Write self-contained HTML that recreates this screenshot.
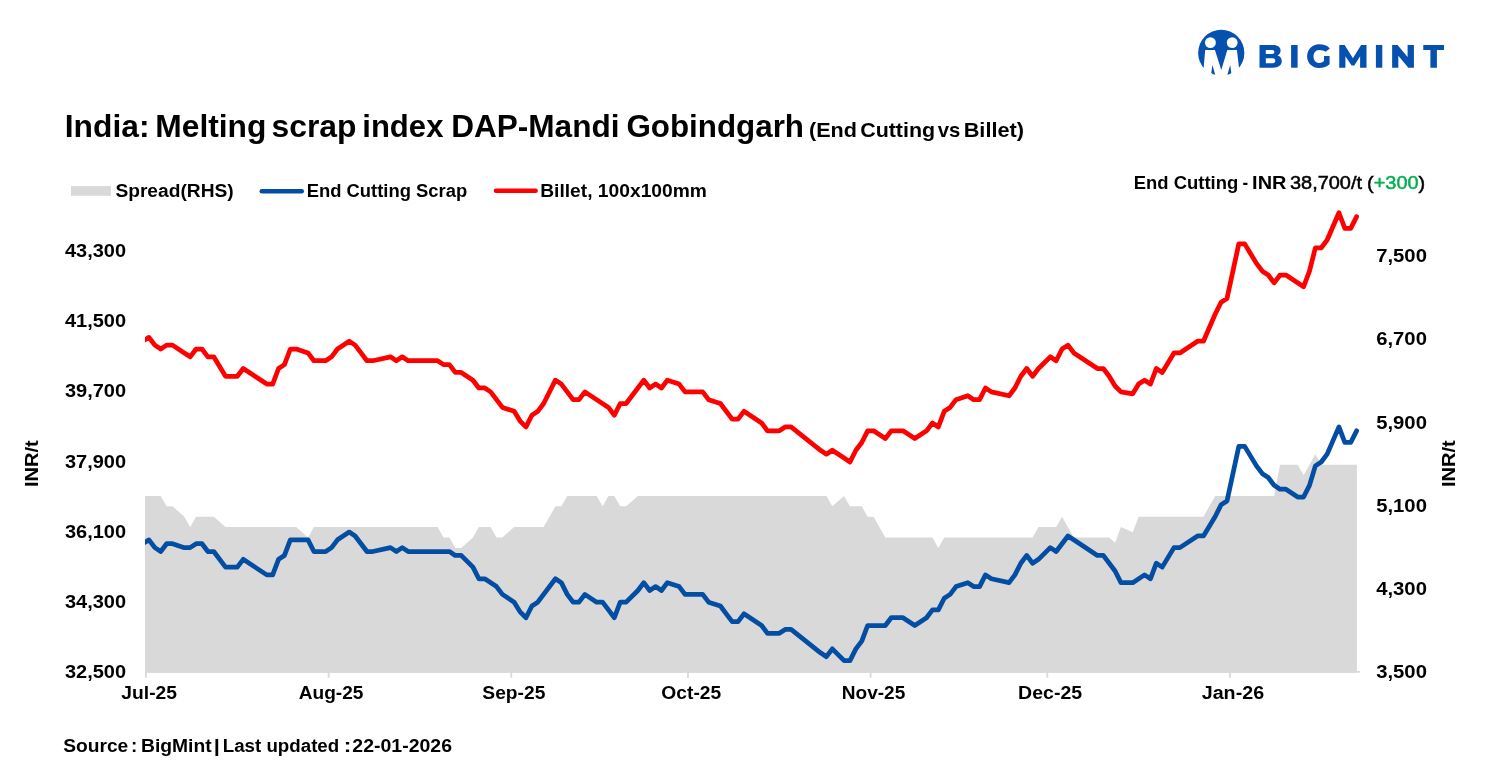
<!DOCTYPE html>
<html><head><meta charset="utf-8"><style>
html,body{margin:0;padding:0;background:#fff;width:1489px;height:776px;overflow:hidden}
svg{display:block;will-change:transform}
text{font-family:"Liberation Sans",sans-serif;font-weight:bold;fill:#000}
</style></head><body>
<svg width="1489" height="776" viewBox="0 0 1489 776">
<defs><clipPath id="plot"><rect x="145.05" y="150" width="1220" height="530"/></clipPath></defs>
<g fill="#0650B0">
<defs><clipPath id="lc"><circle cx="1221.25" cy="52.95" r="23.1"/></clipPath></defs>
<circle cx="1221.25" cy="52.95" r="23.1"/>
<polygon fill="#fff" points="1205.2,49.9 1214.9,49.9 1221.3,70.0 1227.3,49.9 1236.9,49.9 1238.9,66.9 1240.2,82 1202.4,82 1203.7,66.9"/>
<circle cx="1210.4" cy="42.6" r="5.45" fill="#fff"/>
<circle cx="1232.2" cy="42.6" r="5.4" fill="#fff"/>
<polygon points="1212.4,65.0 1211.3,72.8 1212.5,73.9 1215.2,74.8"/>
<polygon points="1230.2,65.0 1231.3,72.8 1230.1,73.9 1227.4,74.8"/>
<path fill-rule="evenodd" d="M1259.5,45 L1273,45 C1277.9,45 1280.6,47.4 1280.6,50.6 C1280.6,52.8 1279.4,54.5 1277.6,55.4 C1280.2,56.2 1281.8,58.3 1281.8,61.1 C1281.8,65.2 1278.6,67.7 1273,67.7 L1259.5,67.7 Z M1265.8,50.1 L1272.2,50.1 C1273.6,50.1 1274.4,50.9 1274.4,52.05 C1274.4,53.2 1273.6,54 1272.2,54 L1265.8,54 Z M1265.8,58.3 L1272.9,58.3 C1274.4,58.3 1275.3,59.2 1275.3,60.75 C1275.3,62.3 1274.4,63.2 1272.9,63.2 L1265.8,63.2 Z"/>
<rect x="1291.1" y="45" width="6.5" height="22.7"/>
<path d="M1329.8,48.45 C1327.6,45.7 1323.6,44.3 1318.95,44.3 C1312.4,44.3 1307.1,49.5 1307.1,56.15 C1307.1,62.8 1312.4,68 1318.95,68 C1323.5,68 1327.3,66.6 1329.6,64.3 L1329.6,56.1 L1324,56.1 L1324,61 C1322.8,62.2 1320.9,62.9 1318.95,62.9 C1315.9,62.9 1313.5,60 1313.5,56.4 C1313.5,52.8 1315.9,49.9 1318.95,49.9 C1321.9,49.9 1324.3,50.6 1325.7,51.75 Z"/>
<polygon points="1339.25,67.73 1339.25,44.95 1344.65,44.95 1352.92,58.23 1361.1,44.95 1366.51,44.95 1366.51,67.73 1360.1,67.73 1360.1,56.15 1354.31,65.41 1351.6,65.41 1345.42,56.15 1345.42,67.73"/>
<rect x="1375.9" y="45" width="6.4" height="22.7"/>
<polygon points="1392.14,67.73 1392.14,44.95 1397.55,44.95 1407.59,56.92 1407.59,44.95 1413.92,44.95 1413.92,67.73 1408.36,67.73 1398.32,55.76 1398.32,67.73"/>
<polygon points="1423.3,45 1444,45 1444,50 1436.9,50 1436.9,67.7 1430.4,67.7 1430.4,50 1423.3,50"/>
</g>

<path d="M145.05,672.7 L145.05,495.92 L160.73,495.92 L166.62,506.31 L172.51,506.31 L184.30,516.71 L190.19,527.10 L196.08,516.71 L213.75,516.71 L225.53,527.10 L296.23,527.10 L308.01,537.49 L313.90,527.10 L437.61,527.10 L443.50,537.49 L449.39,537.49 L455.28,547.88 L461.17,547.88 L472.95,537.49 L478.85,527.10 L490.63,527.10 L496.52,537.49 L502.41,537.49 L514.19,527.10 L543.65,527.10 L555.43,506.31 L561.32,506.31 L567.21,495.92 L596.67,495.92 L602.56,506.31 L608.45,495.92 L614.34,495.92 L620.23,506.31 L626.12,506.31 L637.90,495.92 L826.41,495.92 L832.31,506.31 L844.09,495.92 L849.98,506.31 L861.76,506.31 L867.65,516.71 L873.54,516.71 L885.33,537.49 L932.45,537.49 L938.34,547.88 L944.23,537.49 L1026.71,537.49 L1032.60,537.49 L1038.49,527.10 L1056.16,527.10 L1062.06,516.71 L1073.84,537.49 L1109.18,537.49 L1115.07,542.69 L1120.96,527.10 L1132.75,532.29 L1138.64,516.71 L1203.44,516.71 L1215.22,495.92 L1274.13,495.92 L1280.02,464.74 L1297.69,464.74 L1303.59,475.13 L1315.37,454.35 L1321.26,464.74 L1356.61,464.74 L1356.90,464.74 L1356.9,672.7 Z" fill="#D9D9D9"/>
<rect x="145.05" y="670.95" width="1214.85" height="1.75" fill="#D9D9D9"/>
<rect x="145.10" y="671" width="1.8" height="6.8" fill="#D9D9D9"/><rect x="327.72" y="671" width="1.8" height="6.8" fill="#D9D9D9"/><rect x="510.34" y="671" width="1.8" height="6.8" fill="#D9D9D9"/><rect x="687.07" y="671" width="1.8" height="6.8" fill="#D9D9D9"/><rect x="869.69" y="671" width="1.8" height="6.8" fill="#D9D9D9"/><rect x="1046.42" y="671" width="1.8" height="6.8" fill="#D9D9D9"/><rect x="1229.04" y="671" width="1.8" height="6.8" fill="#D9D9D9"/>
<g clip-path="url(#plot)" fill="none" stroke-linejoin="round" stroke-linecap="round" stroke-width="4.75">
<path d="M143.06,543.40 L148.95,539.85 L154.84,547.64 L160.73,551.53 L166.62,543.74 L172.51,543.74 L184.30,547.64 L190.19,547.64 L196.08,543.74 L201.97,543.74 L207.86,551.53 L213.75,551.53 L225.53,567.11 L237.31,567.11 L243.21,559.32 L254.99,567.11 L266.77,574.89 L272.66,574.89 L278.55,559.32 L284.44,555.42 L290.33,539.85 L308.01,539.85 L313.90,551.53 L325.68,551.53 L331.57,547.64 L337.46,539.85 L349.24,532.06 L355.13,535.95 L366.92,551.53 L372.81,551.53 L390.48,547.64 L396.37,551.53 L402.26,547.64 L408.15,551.53 L449.39,551.53 L455.28,555.42 L461.17,555.42 L472.95,567.11 L478.85,578.79 L484.74,578.79 L496.52,586.58 L502.41,594.37 L514.19,602.15 L520.08,611.89 L525.97,617.73 L531.87,606.05 L537.76,602.15 L555.43,578.79 L561.32,582.68 L567.21,594.37 L573.10,602.15 L578.99,602.15 L584.88,594.37 L596.67,602.15 L602.56,602.15 L608.45,609.94 L614.34,617.73 L620.23,602.15 L626.12,602.15 L637.90,590.47 L643.79,582.68 L649.68,590.47 L655.58,586.58 L661.47,590.47 L667.36,582.68 L679.14,586.58 L685.03,594.37 L702.70,594.37 L708.60,602.15 L720.38,606.05 L726.27,613.84 L732.16,621.63 L738.05,621.63 L743.94,613.84 L761.61,625.52 L767.50,633.31 L779.29,633.31 L785.18,629.41 L791.07,629.41 L820.52,652.78 L826.41,656.67 L832.31,648.88 L844.09,660.57 L849.98,660.57 L855.87,648.88 L861.76,641.10 L867.65,625.52 L885.33,625.52 L891.22,617.73 L903.00,617.73 L914.78,625.52 L926.56,617.73 L932.45,609.94 L938.34,609.94 L944.23,598.26 L950.13,594.37 L956.02,586.58 L967.80,582.68 L973.69,586.58 L979.58,586.58 L985.47,574.89 L991.36,578.79 L1009.04,582.68 L1014.93,574.89 L1020.82,563.21 L1026.71,555.42 L1032.60,563.21 L1038.49,559.32 L1050.27,547.64 L1056.16,551.53 L1067.95,535.95 L1079.73,543.74 L1097.40,555.42 L1103.29,555.42 L1115.07,571.00 L1120.96,582.68 L1132.75,582.68 L1144.53,574.89 L1150.42,578.79 L1156.31,563.21 L1162.20,567.11 L1173.98,547.64 L1179.88,547.64 L1197.55,535.95 L1203.44,535.95 L1215.22,516.48 L1221.11,504.80 L1227.00,500.91 L1238.79,446.39 L1244.68,446.39 L1256.46,465.86 L1262.35,473.65 L1268.24,477.54 L1274.13,485.33 L1280.02,489.22 L1285.91,489.22 L1297.69,497.01 L1303.59,497.01 L1309.48,485.33 L1315.37,465.86 L1321.26,461.96 L1327.15,454.17 L1338.93,426.92 L1344.82,442.49 L1350.71,442.49 L1356.61,430.81" stroke="#034EA2"/>
<path d="M143.06,341.00 L148.95,337.35 L154.84,345.14 L160.73,349.03 L166.62,345.14 L172.51,345.14 L184.30,352.93 L190.19,356.82 L196.08,349.03 L201.97,349.03 L207.86,356.82 L213.75,356.82 L225.53,376.29 L237.31,376.29 L243.21,368.50 L254.99,376.29 L266.77,384.08 L272.66,384.08 L278.55,368.50 L284.44,364.61 L290.33,349.03 L296.23,349.03 L308.01,352.93 L313.90,360.71 L325.68,360.71 L331.57,356.82 L337.46,349.03 L349.24,341.24 L355.13,345.14 L361.03,352.93 L366.92,360.71 L372.81,360.71 L390.48,356.82 L396.37,360.71 L402.26,356.82 L408.15,360.71 L437.61,360.71 L443.50,364.61 L449.39,364.61 L455.28,372.40 L461.17,372.40 L472.95,380.19 L478.85,387.97 L484.74,387.97 L490.63,391.87 L502.41,407.44 L514.19,411.34 L520.08,421.07 L525.97,426.92 L531.87,415.23 L537.76,411.34 L543.65,403.55 L555.43,380.19 L561.32,384.08 L573.10,399.66 L578.99,399.66 L584.88,391.87 L608.45,407.44 L614.34,415.23 L620.23,403.55 L626.12,403.55 L637.90,387.97 L643.79,380.19 L649.68,387.97 L655.58,384.08 L661.47,387.97 L667.36,380.19 L679.14,384.08 L685.03,391.87 L702.70,391.87 L708.60,399.66 L720.38,403.55 L732.16,419.13 L738.05,419.13 L743.94,411.34 L761.61,423.02 L767.50,430.81 L779.29,430.81 L785.18,426.92 L791.07,426.92 L820.52,450.28 L826.41,454.17 L832.31,450.28 L844.09,458.07 L849.98,461.96 L855.87,450.28 L861.76,442.49 L867.65,430.81 L873.54,430.81 L885.33,438.60 L891.22,430.81 L903.00,430.81 L914.78,438.60 L926.56,430.81 L932.45,423.02 L938.34,426.92 L944.23,411.34 L950.13,407.44 L956.02,399.66 L967.80,395.76 L973.69,399.66 L979.58,399.66 L985.47,387.97 L991.36,391.87 L1009.04,395.76 L1014.93,387.97 L1020.82,376.29 L1026.71,368.50 L1032.60,376.29 L1038.49,368.50 L1050.27,356.82 L1056.16,360.71 L1062.06,349.03 L1067.95,345.14 L1073.84,352.93 L1097.40,368.50 L1103.29,368.50 L1109.18,376.29 L1115.07,386.03 L1120.96,391.87 L1132.75,393.81 L1138.64,384.08 L1144.53,380.19 L1150.42,384.08 L1156.31,368.50 L1162.20,372.40 L1173.98,352.93 L1179.88,352.93 L1197.55,341.24 L1203.44,341.24 L1215.22,313.98 L1221.11,302.30 L1227.00,298.41 L1238.79,243.89 L1244.68,243.89 L1256.46,263.36 L1262.35,271.15 L1268.24,275.04 L1274.13,282.83 L1280.02,275.04 L1285.91,275.04 L1303.59,286.72 L1309.48,271.15 L1315.37,247.78 L1321.26,247.78 L1327.15,239.99 L1338.93,212.73 L1344.82,228.31 L1350.71,228.31 L1356.61,216.63" stroke="#FF0000"/>
</g>
<rect x="71" y="186.1" width="39.9" height="9.7" fill="#D9D9D9"/>
<line x1="261.8" y1="191.2" x2="301.7" y2="191.2" stroke="#034EA2" stroke-width="4.6" stroke-linecap="round"/>
<line x1="496" y1="190.8" x2="535.6" y2="190.8" stroke="#FF0000" stroke-width="4.6" stroke-linecap="round"/>
<text x="64.80" y="136.9" font-size="30.8" textLength="84.66" lengthAdjust="spacingAndGlyphs">India:</text><text x="155.26" y="136.9" font-size="30.8" textLength="111.19" lengthAdjust="spacingAndGlyphs">Melting</text><text x="271.56" y="136.9" font-size="30.8" textLength="84.99" lengthAdjust="spacingAndGlyphs">scrap</text><text x="362.28" y="136.9" font-size="30.8" textLength="81.14" lengthAdjust="spacingAndGlyphs">index</text><text x="451.17" y="136.9" font-size="30.8" textLength="168.36" lengthAdjust="spacingAndGlyphs">DAP-Mandi</text><text x="626.48" y="136.9" font-size="30.8" textLength="177.54" lengthAdjust="spacingAndGlyphs">Gobindgarh</text><text x="808.96" y="136.7" font-size="19.9" textLength="47.98" lengthAdjust="spacingAndGlyphs">(End</text><text x="860.19" y="136.7" font-size="19.9" textLength="74.94" lengthAdjust="spacingAndGlyphs">Cutting</text><text x="937.68" y="136.7" font-size="19.9" textLength="22.61" lengthAdjust="spacingAndGlyphs">vs</text><text x="963.65" y="136.7" font-size="19.9" textLength="60.41" lengthAdjust="spacingAndGlyphs">Billet)</text><text x="115.40" y="196.9" font-size="18.8" textLength="118.30" lengthAdjust="spacingAndGlyphs">Spread(RHS)</text><text x="306.69" y="196.9" font-size="18.8" textLength="160.53" lengthAdjust="spacingAndGlyphs">End Cutting Scrap</text><text x="540.20" y="196.9" font-size="18.8" textLength="166.71" lengthAdjust="spacingAndGlyphs">Billet, 100x100mm</text><text x="1133.78" y="188.8" font-size="18.7" textLength="104.44" lengthAdjust="spacingAndGlyphs">End Cutting</text><text x="1242.41" y="188.8" font-size="18.7" textLength="5.67" lengthAdjust="spacingAndGlyphs">-</text><text x="1252.10" y="188.8" font-size="18.7" textLength="34.34" lengthAdjust="spacingAndGlyphs">INR</text><text x="1290.01" y="188.8" font-size="18.7" style="font-weight:normal;stroke:#000;stroke-width:0.5px" textLength="72.00" lengthAdjust="spacingAndGlyphs">38,700/t</text><text x="1367.08" y="188.8" font-size="18.7" style="font-weight:normal;stroke:#000;stroke-width:0.5px" textLength="58.14" lengthAdjust="spacingAndGlyphs">(<tspan style="fill:#00B050;stroke:#00B050">+300</tspan>)</text><text x="65.00" y="256.9" font-size="18.7" textLength="61.10" lengthAdjust="spacingAndGlyphs">43,300</text><text x="65.00" y="327.13" font-size="18.7" textLength="61.10" lengthAdjust="spacingAndGlyphs">41,500</text><text x="64.99" y="397.36" font-size="18.7" textLength="61.12" lengthAdjust="spacingAndGlyphs">39,700</text><text x="64.99" y="467.59" font-size="18.7" textLength="61.12" lengthAdjust="spacingAndGlyphs">37,900</text><text x="64.99" y="537.82" font-size="18.7" textLength="61.12" lengthAdjust="spacingAndGlyphs">36,100</text><text x="64.99" y="608.05" font-size="18.7" textLength="61.12" lengthAdjust="spacingAndGlyphs">34,300</text><text x="64.99" y="678.28" font-size="18.7" textLength="61.12" lengthAdjust="spacingAndGlyphs">32,500</text><text x="1376.19" y="262.25" font-size="18.7" textLength="50.73" lengthAdjust="spacingAndGlyphs">7,500</text><text x="1376.19" y="345.39" font-size="18.7" textLength="50.73" lengthAdjust="spacingAndGlyphs">6,700</text><text x="1376.19" y="428.53" font-size="18.7" textLength="50.73" lengthAdjust="spacingAndGlyphs">5,900</text><text x="1376.19" y="511.67" font-size="18.7" textLength="50.73" lengthAdjust="spacingAndGlyphs">5,100</text><text x="1376.19" y="594.81" font-size="18.7" textLength="50.73" lengthAdjust="spacingAndGlyphs">4,300</text><text x="1376.19" y="677.95" font-size="18.7" textLength="50.73" lengthAdjust="spacingAndGlyphs">3,500</text><text x="121.39" y="698.9" font-size="18.7" textLength="55.62" lengthAdjust="spacingAndGlyphs">Jul-25</text><text x="298.69" y="698.9" font-size="18.7" textLength="64.71" lengthAdjust="spacingAndGlyphs">Aug-25</text><text x="482.39" y="698.9" font-size="18.7" textLength="63.02" lengthAdjust="spacingAndGlyphs">Sep-25</text><text x="661.39" y="698.9" font-size="18.7" textLength="59.82" lengthAdjust="spacingAndGlyphs">Oct-25</text><text x="841.79" y="698.9" font-size="18.7" textLength="63.52" lengthAdjust="spacingAndGlyphs">Nov-25</text><text x="1018.09" y="698.9" font-size="18.7" textLength="64.02" lengthAdjust="spacingAndGlyphs">Dec-25</text><text x="1201.69" y="698.9" font-size="18.7" textLength="62.42" lengthAdjust="spacingAndGlyphs">Jan-26</text><text x="63.20" y="751.9" font-size="18.7" textLength="65.12" lengthAdjust="spacingAndGlyphs">Source</text><text x="131.08" y="751.9" font-size="18.7" textLength="6.33" lengthAdjust="spacingAndGlyphs">:</text><text x="140.99" y="751.9" font-size="18.7" textLength="70.61" lengthAdjust="spacingAndGlyphs">BigMint</text><text x="213.70" y="751.9" font-size="18.7" textLength="6.10" lengthAdjust="spacingAndGlyphs">|</text><text x="222.79" y="751.9" font-size="18.7" textLength="116.42" lengthAdjust="spacingAndGlyphs">Last updated</text><text x="343.68" y="751.9" font-size="18.7" textLength="7.57" lengthAdjust="spacingAndGlyphs">:</text><text x="352.30" y="751.9" font-size="18.7" textLength="99.71" lengthAdjust="spacingAndGlyphs">22-01-2026</text><text transform="translate(37.9,487.03) rotate(-90)" font-size="18.7" textLength="46.85" lengthAdjust="spacingAndGlyphs">INR/t</text><text transform="translate(1454.7,487.03) rotate(-90)" font-size="18.7" textLength="46.85" lengthAdjust="spacingAndGlyphs">INR/t</text>
</svg>
</body></html>
